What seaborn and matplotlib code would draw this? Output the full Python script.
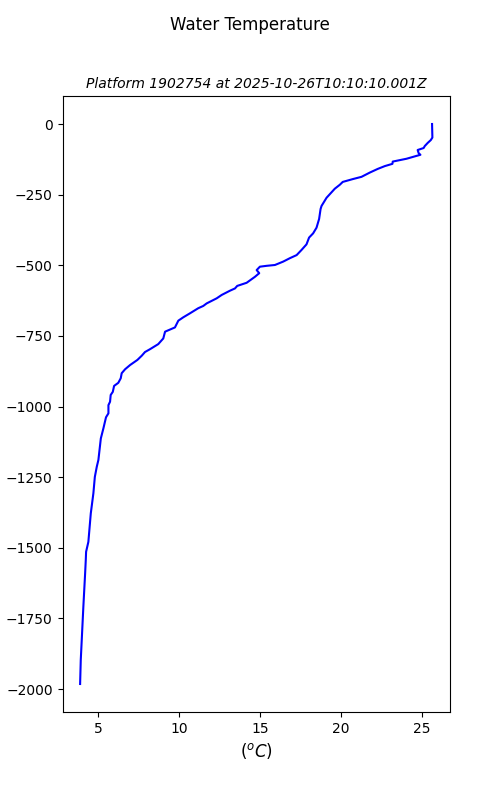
import matplotlib
matplotlib.use("Agg")
import matplotlib.pyplot as plt
import seaborn as sns
import pandas as pd

depth_m = [0, 48, 57, 67, 78, 85, 92, 103, 109, 113, 123, 133, 141, 149, 159, 172, 187,
           195, 205, 215, 229, 261, 290, 301, 336, 367, 387, 402, 426, 446, 464, 475,
           487, 499, 502, 505, 517, 528, 541, 562, 573, 582, 590, 605, 617, 635, 644,
           652, 670, 684, 696, 720, 735, 759, 779, 797, 807, 820, 835, 853, 868, 882,
           900, 916, 927, 948, 959, 983, 995, 1024, 1038, 1077, 1113, 1189, 1213, 1249,
           1307, 1378, 1479, 1514, 1543, 1590, 1709, 1827, 1897, 1982]
temperature = [25.64, 25.66, 25.56, 25.37, 25.19, 25.12, 24.75, 24.81, 24.92, 24.67, 24.06,
               23.21, 23.19, 22.72, 22.28, 21.79, 21.28, 20.74, 20.12, 19.94, 19.63, 19.12,
               18.81, 18.75, 18.66, 18.5, 18.29, 18.04, 17.88, 17.57, 17.27, 16.85, 16.44,
               15.93, 15.41, 15.0, 14.8, 14.96, 14.69, 14.18, 13.6, 13.46, 13.15, 12.64,
               12.33, 11.71, 11.5, 11.19, 10.68, 10.27, 9.96, 9.75, 9.14, 9.03, 8.72, 8.21,
               7.9, 7.7, 7.43, 6.98, 6.67, 6.46, 6.4, 6.25, 5.99, 5.91, 5.78, 5.74, 5.64,
               5.64, 5.49, 5.33, 5.17, 5.02, 4.92, 4.8, 4.71, 4.55, 4.4, 4.26, 4.24, 4.2,
               4.09, 3.99, 3.93, 3.89]

df = pd.DataFrame({"temp": temperature, "depth": [-d for d in depth_m]})

fig, ax = plt.subplots(figsize=(5, 8), dpi=100)
sns.lineplot(data=df, x="temp", y="depth", sort=False, estimator=None,
             color="blue", linewidth=1.5, ax=ax)
fig.suptitle("Water Temperature", fontsize=12)
ax.set_title("Platform 1902754 at 2025-10-26T10:10:10.001Z", fontsize=10, style="italic")
ax.set_xlabel("($^oC$)", fontsize=12)
ax.set_ylabel("depth (m)", fontsize=10)
fig.savefig("out.png", dpi=100)
